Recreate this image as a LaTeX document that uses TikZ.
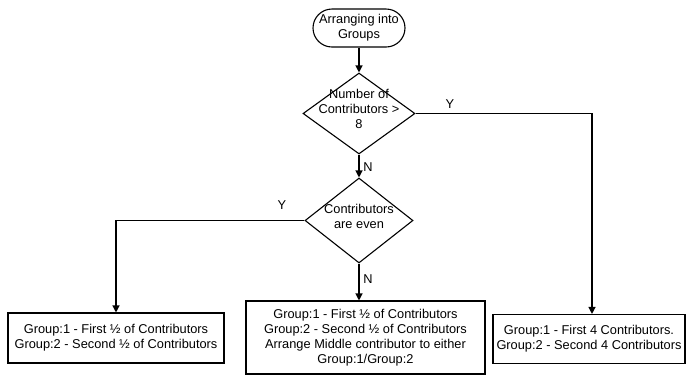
\documentclass[tikz,border=0pt]{standalone}
\usepackage{fontspec}
\setmainfont{Liberation Sans}
\usetikzlibrary{shapes.geometric,arrows.meta}
\begin{document}
\begin{tikzpicture}[x=1pt,y=-1pt,
  every node/.style={font=\fontsize{12.8}{15}\selectfont},
  box/.style={draw,line width=1.1pt,inner sep=0pt,align=center},
  term/.style={box,rounded corners=19pt},
  dia/.style={draw,line width=1.1pt,diamond,inner sep=0pt},
  conn/.style={line width=1.2pt},
  arr/.style={conn,-{Triangle[length=7pt,width=7pt]}},
  lbl/.style={inner sep=0pt}]
\useasboundingbox (0,0) rectangle (686,376);
\node[term,minimum width=92pt,minimum height=38pt] (start) at (359,28) {Arranging into\\Groups};
\node[dia,minimum width=112pt,minimum height=81pt] (d1) at (359,113.5)
  {\makebox[0pt]{\smash{\begin{tabular}{@{}c@{}}Number of\\Contributors >\\8\end{tabular}}}};
\node[dia,minimum width=108pt,minimum height=85pt] (d2) at (359,220.5)
  {\makebox[0pt]{\smash{\begin{tabular}{@{}c@{}}Contributors\\are even\end{tabular}}}};
\node[box,minimum width=216pt,minimum height=50pt] (left) at (116,338) {Group:1 - First ½ of Contributors\\Group:2 - Second ½ of Contributors};
\node[box,minimum width=239pt,minimum height=73pt] (mid) at (365.5,337.5) {Group:1 - First ½ of Contributors\\Group:2 - Second ½ of Contributors\\Arrange Middle contributor to either\\Group:1/Group:2};
\node[box,minimum width=192pt,minimum height=49pt] (right) at (589,339) {Group:1 - First 4 Contributors.\\Group:2 - Second 4 Contributors};
\coordinate (r1) at (592,113.5);
\coordinate (l1) at (116,220.5);
\draw[arr] (start) -- (d1);
\draw[arr] (d1.south) -- (d2.north);
\draw[arr] (d1.east) -- (r1) -- (right.north -| r1);
\draw[arr] (d2.west) -- (l1) -- (left.north);
\draw[arr] (d2.south) -- (mid.north -| d2.south);
\node[lbl] (y1) at (450,104) {Y};
\node[lbl] (n1) at (368,167) {N};
\node[lbl] (y2) at (282,205) {Y};
\node[lbl] (n2) at (368,279) {N};
\end{tikzpicture}
\end{document}
